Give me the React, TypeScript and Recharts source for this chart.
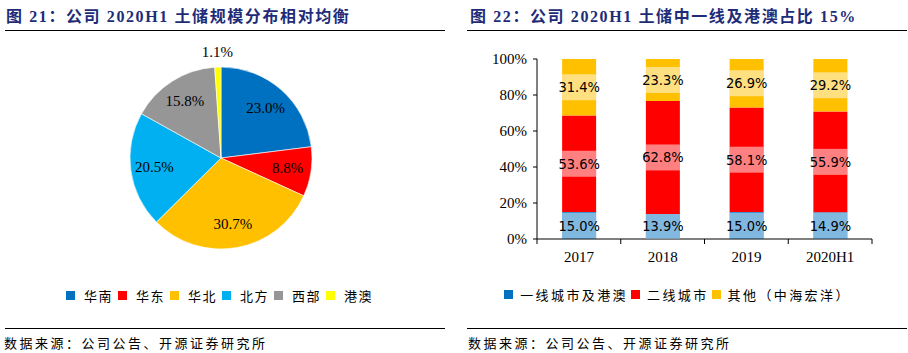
import React from "react";
import {
  PieChart,
  Pie,
  Cell,
  BarChart,
  Bar,
  XAxis,
  YAxis,
  Legend,
  LabelList,
} from "recharts";

// 图21 土储区域分布 (%)
const regionNames = ["华南", "华东", "华北", "北方", "西部", "港澳"];
const regionShares = [23.0, 8.8, 30.7, 20.5, 15.8, 1.1];
const regionColors = ["#0070C0", "#FF0000", "#FFC000", "#00B0F0", "#969696", "#FFFF00"];

// 图22 城市能级占比 (%)
const years = ["2017", "2018", "2019", "2020H1"];
const tierNames = ["一线城市及港澳", "二线城市", "其他（中海宏洋）"];
const tier1Share = [15.0, 13.9, 15.0, 14.9];
const tier2Share = [53.6, 62.8, 58.1, 55.9];
const otherShare = [31.4, 23.3, 26.9, 29.2];
const tierColors = ["#0070C0", "#FF0000", "#FFC000"];
const yTicks = [0, 20, 40, 60, 80, 100];

const pieData = regionNames.map((name, i) => ({ name, value: regionShares[i] }));
const barData = years.map((year, i) => ({
  year,
  tier1: tier1Share[i],
  tier2: tier2Share[i],
  other: otherShare[i],
}));

const SERIF = '"Liberation Serif", "Times New Roman", serif';
const CJK = '"Noto Sans CJK SC", "Noto Sans", sans-serif';
const TITLE_COLOR = "#1E2C78";
const RADIAN = Math.PI / 180;

const renderPieLabel = (props: any) => {
  const { cx, cy, midAngle, outerRadius, value } = props;
  const outside = value < 3;
  const r = outside ? outerRadius + 15 : outerRadius * 0.74;
  const x = cx + r * Math.cos(-midAngle * RADIAN);
  const y = cy + r * Math.sin(-midAngle * RADIAN);
  return (
    <text
      x={x}
      y={y}
      textAnchor="middle"
      dominantBaseline="central"
      fontFamily={SERIF}
      fontSize={15}
      fill="#000"
    >
      {`${Number(value).toFixed(1)}%`}
    </text>
  );
};

const BarValueLabel = (props: any) => {
  const { x, y, width, height, value } = props;
  const boxH = Math.min(26, height);
  const mid = y + height / 2;
  return (
    <g>
      <rect x={x} y={mid - boxH / 2} width={width} height={boxH} fill="#fff" fillOpacity={0.5} />
      <text
        x={x + width / 2}
        y={mid}
        textAnchor="middle"
        dominantBaseline="central"
        fontFamily='"DejaVu Sans Condensed", "DejaVu Sans", sans-serif'
        fontSize={14.5}
        fill="#000"
      >
        {`${Number(value).toFixed(1)}%`}
      </text>
    </g>
  );
};

const YearTick = (props: any) => {
  const { x, y, payload, index } = props;
  const half = payload?.offset ?? 0;
  return (
    <g>
      {index === 0 && <line x1={x - half} x2={x - half} y1={y} y2={y + 5} stroke="#000" />}
      <line x1={x + half} x2={x + half} y1={y} y2={y + 5} stroke="#000" />
      <text
        x={x}
        y={y + 18}
        textAnchor="middle"
        dominantBaseline="central"
        fontFamily={SERIF}
        fontSize={15}
        fill="#000"
      >
        {payload.value}
      </text>
    </g>
  );
};

// legend keeps the series order instead of Recharts' default sort by name
const makeLegend =
  (order: string[], spacing: number, iconGap: number, itemGap: number) => (props: any) => {
    const items = [...(props.payload || [])].sort(
      (a: any, b: any) => order.indexOf(a.value) - order.indexOf(b.value)
    );
    return (
      <div
        style={{
          display: "flex",
          justifyContent: "center",
          alignItems: "center",
          fontFamily: CJK,
          fontSize: 13,
          letterSpacing: spacing,
          color: "#000",
        }}
      >
        {items.map((entry: any) => (
          <span
            key={entry.value}
            style={{ display: "inline-flex", alignItems: "center", marginRight: itemGap }}
          >
            <span
              style={{
                display: "inline-block",
                width: 9,
                height: 9,
                background: entry.color,
                marginRight: iconGap,
              }}
            />
            {entry.value}
          </span>
        ))}
      </div>
    );
  };

const Title = ({ left, text }: { left: number; text: string }) => (
  <div
    style={{
      position: "absolute",
      left,
      top: 3,
      fontFamily: `${SERIF.split(",")[0]}, ${CJK}`,
      fontWeight: "bold",
      fontSize: 16,
      letterSpacing: 1.6,
      color: TITLE_COLOR,
      whiteSpace: "nowrap",
    }}
  >
    {text}
  </div>
);

const Rule = ({ left, top }: { left: number; top: number }) => (
  <div
    style={{
      position: "absolute",
      left,
      top,
      width: 440,
      height: 0,
      borderTop: "1.5px solid #000",
    }}
  />
);

const Source = ({ left }: { left: number }) => (
  <div
    style={{
      position: "absolute",
      left,
      top: 333,
      fontFamily: CJK,
      fontSize: 13,
      letterSpacing: 2.5,
      color: "#000",
      whiteSpace: "nowrap",
    }}
  >
    数据来源：公司公告、开源证券研究所
  </div>
);

export default function App() {
  return (
    <div
      style={{
        position: "absolute",
        left: 0,
        top: 0,
        width: 908,
        height: 353,
        background: "#fff",
        overflow: "hidden",
      }}
    >
      <Title left={6} text="图 21：公司 2020H1 土储规模分布相对均衡" />
      <Title left={470} text="图 22：公司 2020H1 土储中一线及港澳占比 15%" />
      <Rule left={5} top={30} />
      <Rule left={467} top={30} />

      <div style={{ position: "absolute", left: 0, top: 0 }}>
        <PieChart width={454} height={320} margin={{ top: 0, right: 0, bottom: 0, left: 0 }}>
          <Pie
            data={pieData}
            dataKey="value"
            nameKey="name"
            cx={221}
            cy={158}
            outerRadius={91}
            startAngle={90}
            endAngle={-270}
            stroke="#fff"
            strokeWidth={0.6}
            label={renderPieLabel}
            labelLine={false}
            isAnimationActive={false}
          >
            {pieData.map((d, i) => (
              <Cell key={d.name} fill={regionColors[i]} />
            ))}
          </Pie>
          <Legend
            verticalAlign="middle"
            align="center"
            layout="horizontal"
            content={makeLegend(regionNames, 1.5, 9, 5)}
            wrapperStyle={{ top: 286, left: 0, width: 444 }}
          />
        </PieChart>
      </div>

      <div style={{ position: "absolute", left: 454, top: 0 }}>
        <BarChart
          width={454}
          height={315}
          data={barData}
          margin={{ top: 59, right: 36, bottom: 46, left: 43 }}
          barCategoryGap="30%"
        >
          <XAxis
            dataKey="year"
            axisLine={{ stroke: "#000" }}
            tickLine={false}
            tickSize={0}
            tickMargin={0}
            height={30}
            interval={0}
            tick={<YearTick />}
          />
          <YAxis
            domain={[0, 100]}
            ticks={yTicks}
            tickFormatter={(v) => `${v}%`}
            axisLine={{ stroke: "#000" }}
            tickLine={{ stroke: "#000" }}
            tickSize={4}
            tickMargin={6}
            width={40}
            tick={{ fontFamily: SERIF, fontSize: 15, fill: "#000" }}
          />
          <Bar dataKey="tier1" name={tierNames[0]} stackId="s" fill={tierColors[0]} isAnimationActive={false}>
            <LabelList dataKey="tier1" content={<BarValueLabel />} />
          </Bar>
          <Bar dataKey="tier2" name={tierNames[1]} stackId="s" fill={tierColors[1]} isAnimationActive={false}>
            <LabelList dataKey="tier2" content={<BarValueLabel />} />
          </Bar>
          <Bar dataKey="other" name={tierNames[2]} stackId="s" fill={tierColors[2]} isAnimationActive={false}>
            <LabelList dataKey="other" content={<BarValueLabel />} />
          </Bar>
          <Legend
            verticalAlign="middle"
            align="center"
            layout="horizontal"
            content={makeLegend(tierNames, 2.4, 7, 3)}
            wrapperStyle={{ top: 285, left: 0, width: 450 }}
          />
        </BarChart>
      </div>

      <Rule left={5} top={328} />
      <Rule left={467} top={328} />
      <Source left={4} />
      <Source left={468} />
    </div>
  );
}
